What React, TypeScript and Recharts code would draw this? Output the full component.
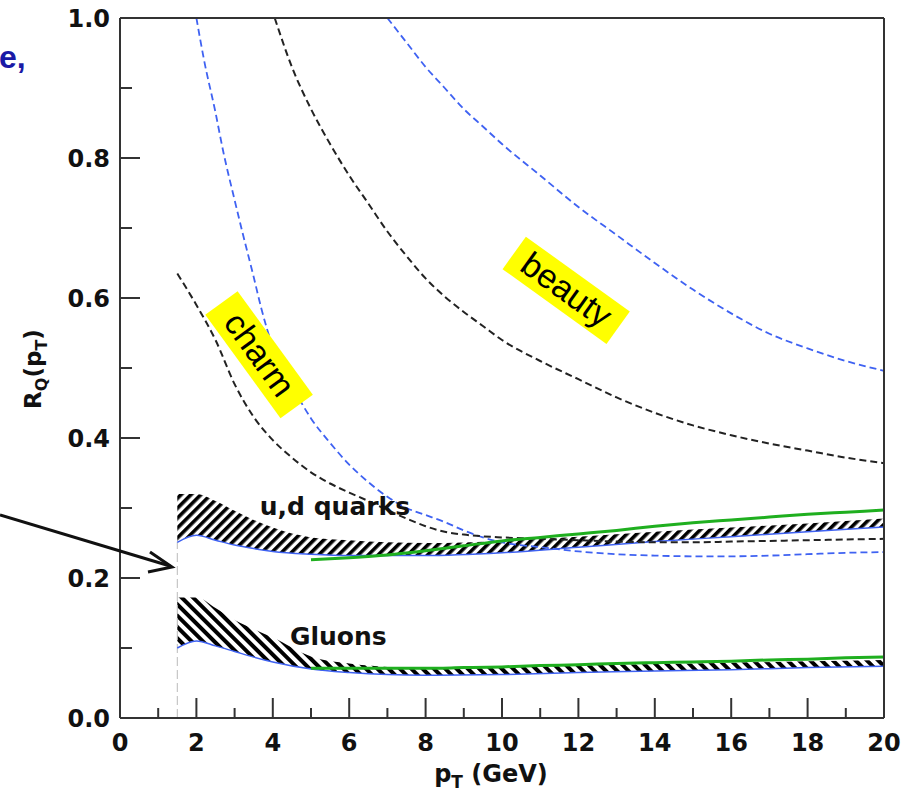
import { ComposedChart, Line, Area, XAxis, YAxis, ReferenceLine, ReferenceDot } from "recharts";

// tick values
const xTicks = [0, 1, 2, 3, 4, 5, 6, 7, 8, 9, 10, 11, 12, 13, 14, 15, 16, 17, 18, 19, 20];
const yTicks = [0, 0.1, 0.2, 0.3, 0.4, 0.5, 0.6, 0.7, 0.8, 0.9, 1.0];

// charm, blue dashed
const charmBluePt = [2.0, 2.2, 2.5, 2.7, 3.0, 3.2, 3.5, 3.7, 4.0, 4.5, 5.0, 5.5, 6.0, 6.5, 7.0, 7.5, 8.0, 8.5, 9, 9.5, 10, 11, 12, 13, 14, 15, 16, 17, 18, 19, 20];
const charmBlueR = [1.0, 0.94, 0.865, 0.81, 0.74, 0.695, 0.63, 0.585, 0.53, 0.475, 0.428, 0.393, 0.362, 0.337, 0.316, 0.3, 0.29, 0.28, 0.268, 0.258, 0.251, 0.244, 0.238, 0.234, 0.232, 0.231, 0.231, 0.232, 0.234, 0.236, 0.237];

// charm, black dashed
const charmBlackPt = [1.5, 2.0, 2.5, 3.0, 3.5, 4.0, 4.5, 5.0, 5.5, 6.0, 6.5, 7.0, 7.5, 8.0, 8.5, 9, 10, 11, 12, 13, 14, 15, 16, 17, 18, 19, 20];
const charmBlackR = [0.635, 0.59, 0.54, 0.477, 0.43, 0.397, 0.372, 0.351, 0.335, 0.322, 0.31, 0.297, 0.285, 0.274, 0.266, 0.262, 0.258, 0.256, 0.254, 0.252, 0.251, 0.251, 0.252, 0.253, 0.254, 0.255, 0.256];

// beauty, black dashed
const beautyBlackPt = [4.05, 4.5, 5.0, 5.5, 6.0, 6.5, 7.0, 7.5, 8, 8.5, 9, 9.5, 10, 11, 12, 13, 14, 15, 16, 17, 18, 19, 20];
const beautyBlackR = [1.0, 0.93, 0.87, 0.82, 0.775, 0.735, 0.695, 0.66, 0.628, 0.602, 0.58, 0.56, 0.54, 0.51, 0.484, 0.458, 0.436, 0.418, 0.404, 0.392, 0.382, 0.372, 0.364];

// beauty, blue dashed
const beautyBluePt = [7.0, 7.5, 8, 8.5, 9, 9.5, 10, 11, 12, 13, 14, 15, 16, 17, 18, 19, 20];
const beautyBlueR = [1.0, 0.965, 0.93, 0.9, 0.87, 0.845, 0.82, 0.775, 0.73, 0.69, 0.65, 0.612, 0.578, 0.549, 0.528, 0.51, 0.496];

// u,d quarks band
const bandPt = [1.5, 2.0, 2.5, 3.0, 3.5, 4.0, 5.0, 6.0, 7.0, 8.0, 10, 12, 14, 16, 18, 20];
const udLow = [0.251, 0.261, 0.254, 0.247, 0.242, 0.238, 0.234, 0.232, 0.232, 0.232, 0.236, 0.244, 0.252, 0.259, 0.266, 0.273];
const udHigh = [0.32, 0.32, 0.31, 0.296, 0.283, 0.272, 0.258, 0.254, 0.251, 0.25, 0.253, 0.259, 0.266, 0.272, 0.278, 0.285];

// gluon band
const gLow = [0.1, 0.11, 0.103, 0.095, 0.087, 0.08, 0.07, 0.065, 0.062, 0.061, 0.062, 0.065, 0.067, 0.069, 0.072, 0.074];
const gHigh = [0.172, 0.172, 0.157, 0.14, 0.127, 0.115, 0.088, 0.078, 0.073, 0.071, 0.072, 0.075, 0.077, 0.079, 0.081, 0.083];

// green lines
const greenPt = [5, 6, 7, 8, 9, 10, 11, 12, 13, 14, 15, 16, 17, 18, 19, 20];
const udGreen = [0.226, 0.229, 0.233, 0.239, 0.246, 0.253, 0.258, 0.263, 0.268, 0.274, 0.279, 0.283, 0.287, 0.291, 0.294, 0.297];
const gGreen = [0.071, 0.071, 0.071, 0.071, 0.072, 0.073, 0.075, 0.076, 0.078, 0.079, 0.08, 0.081, 0.083, 0.084, 0.086, 0.087];

const zip = (xs: number[], ys: number[]) => xs.map((x, i) => ({ x, y: ys[i] }));
const zipBand = (xs: number[], lo: number[], hi: number[]) =>
  xs.map((x, i) => ({ x, lo: lo[i], band: [lo[i], hi[i]] }));

const AXIS = "#333";
const FONT = "'DejaVu Sans', sans-serif";
const BLUE = "#3f62f2";
const GREEN = "#1faf1f";

function BottomTick(props: any) {
  const { x, y, payload } = props;
  const v = payload.value;
  const major = Math.round(v) % 2 === 0;
  return (
    <g>
      <line x1={x} x2={x} y1={y} y2={y - (major ? 20 : 10)} stroke={AXIS} strokeWidth={2} />
      {major && (
        <text x={x} y={y + 33} textAnchor="middle" fontFamily={FONT} fontWeight="bold" fontSize={24} fill="#111">
          {v}
        </text>
      )}
    </g>
  );
}

function TopTick(props: any) {
  const { x, y, payload } = props;
  const major = Math.round(payload.value) % 2 === 0;
  return <line x1={x} x2={x} y1={y} y2={y + (major ? 18 : 11)} stroke={AXIS} strokeWidth={2} />;
}

function LeftTick(props: any) {
  const { x, y, payload } = props;
  const v = payload.value;
  const major = Math.round(v * 10) % 2 === 0;
  return (
    <g>
      <line x1={x} x2={x + (major ? 20 : 12)} y1={y} y2={y} stroke={AXIS} strokeWidth={2} />
      {major && (
        <text x={x - 10} y={y + 8.5} textAnchor="end" fontFamily={FONT} fontWeight="bold" fontSize={24} fill="#111">
          {v.toFixed(1)}
        </text>
      )}
    </g>
  );
}

function RightTick(props: any) {
  const { x, y, payload } = props;
  const major = Math.round(payload.value * 10) % 2 === 0;
  return <line x1={x} x2={x - (major ? 20 : 10)} y1={y} y2={y} stroke={AXIS} strokeWidth={2} />;
}

function Tag({ cx, cy, angle, text }: { cx: number; cy: number; angle: number; text: string }) {
  return (
    <g transform={`translate(${cx},${cy}) rotate(${angle})`}>
      <rect x={-64} y={-20} width={128} height={40} fill="#ffff00" />
      <text x={0} y={11} textAnchor="middle" fontFamily="'Liberation Sans', Arial, sans-serif" fontSize={34} fill="#000">
        {text}
      </text>
    </g>
  );
}

function Caption({ cx, cy, text }: { cx: number; cy: number; text: string }) {
  return (
    <text x={cx} y={cy} fontFamily={FONT} fontWeight="bold" fontSize={25} fill="#111">
      {text}
    </text>
  );
}

export default function App() {
  return (
    <div style={{ position: "absolute", left: 0, top: 0, width: 919, height: 792, background: "#fff", overflow: "hidden" }}>
      <svg width={0} height={0} style={{ position: "absolute" }}>
        <defs>
          <pattern id="hatchUD" patternUnits="userSpaceOnUse" width={7} height={7} patternTransform="rotate(45)">
            <rect width={7} height={7} fill="#fff" />
            <rect width={3.6} height={7} fill="#000" />
          </pattern>
          <pattern id="hatchG" patternUnits="userSpaceOnUse" width={8} height={8} patternTransform="rotate(-45)">
            <rect width={8} height={8} fill="#fff" />
            <rect width={4} height={8} fill="#000" />
          </pattern>
        </defs>
      </svg>
      <ComposedChart width={919} height={792} margin={{ top: 0, right: 0, bottom: 0, left: 0 }}>
        <XAxis
          dataKey="x"
          type="number"
          domain={[0, 20]}
          ticks={xTicks}
          interval={0}
          height={74}
          tickSize={0}
          tickMargin={0}
          tickLine={false}
          axisLine={{ stroke: AXIS, strokeWidth: 2 }}
          tick={(p: any) => <BottomTick {...p} />}
        />
        <XAxis
          xAxisId="top"
          orientation="top"
          dataKey="x"
          type="number"
          domain={[0, 20]}
          ticks={xTicks}
          interval={0}
          height={18}
          tickSize={0}
          tickMargin={0}
          tickLine={false}
          axisLine={{ stroke: AXIS, strokeWidth: 2 }}
          tick={(p: any) => <TopTick {...p} />}
        />
        <YAxis
          type="number"
          domain={[0, 1]}
          ticks={yTicks}
          interval={0}
          width={120}
          tickSize={0}
          tickMargin={0}
          tickLine={false}
          axisLine={{ stroke: AXIS, strokeWidth: 2 }}
          tick={(p: any) => <LeftTick {...p} />}
        />
        <YAxis
          yAxisId="right"
          orientation="right"
          type="number"
          domain={[0, 1]}
          ticks={yTicks}
          interval={0}
          width={35}
          tickSize={0}
          tickMargin={0}
          tickLine={false}
          axisLine={{ stroke: AXIS, strokeWidth: 2 }}
          tick={(p: any) => <RightTick {...p} />}
        />

        <ReferenceLine
          segment={[{ x: 1.5, y: 0 }, { x: 1.5, y: 0.252 }]}
          stroke="#bbb"
          strokeWidth={1}
          strokeDasharray="9 4"
        />

        <Area data={zipBand(bandPt, udLow, udHigh)} dataKey="band" type="monotone" fill="url(#hatchUD)" fillOpacity={1} stroke="none" isAnimationActive={false} />
        <Area data={zipBand(bandPt, gLow, gHigh)} dataKey="band" type="monotone" fill="url(#hatchG)" fillOpacity={1} stroke="none" isAnimationActive={false} />
        <Line data={zipBand(bandPt, udLow, udHigh)} dataKey="lo" type="monotone" stroke={BLUE} strokeWidth={1.5} dot={false} isAnimationActive={false} />
        <Line data={zipBand(bandPt, gLow, gHigh)} dataKey="lo" type="monotone" stroke={BLUE} strokeWidth={1.5} dot={false} isAnimationActive={false} />

        <Line data={zip(charmBluePt, charmBlueR)} dataKey="y" type="monotone" stroke={BLUE} strokeWidth={1.8} strokeDasharray="7 4" dot={false} isAnimationActive={false} />
        <Line data={zip(charmBlackPt, charmBlackR)} dataKey="y" type="monotone" stroke="#222" strokeWidth={2} strokeDasharray="7 4" dot={false} isAnimationActive={false} />
        <Line data={zip(beautyBlackPt, beautyBlackR)} dataKey="y" type="monotone" stroke="#222" strokeWidth={2} strokeDasharray="7 4" dot={false} isAnimationActive={false} />
        <Line data={zip(beautyBluePt, beautyBlueR)} dataKey="y" type="monotone" stroke={BLUE} strokeWidth={1.8} strokeDasharray="7 4" dot={false} isAnimationActive={false} />

        <Line data={zip(greenPt, udGreen)} dataKey="y" type="monotone" stroke={GREEN} strokeWidth={3} dot={false} isAnimationActive={false} />
        <Line data={zip(greenPt, gGreen)} dataKey="y" type="monotone" stroke={GREEN} strokeWidth={3} dot={false} isAnimationActive={false} />

        <ReferenceDot x={3.64} y={0.519} r={0} shape={(p: any) => <Tag cx={p.cx} cy={p.cy} angle={54} text="charm" />} />
        <ReferenceDot x={11.68} y={0.611} r={0} shape={(p: any) => <Tag cx={p.cx} cy={p.cy} angle={35.7} text="beauty" />} />
        <ReferenceDot x={3.66} y={0.29} r={0} shape={(p: any) => <Caption cx={p.cx} cy={p.cy} text="u,d quarks" />} />
        <ReferenceDot x={4.45} y={0.104} r={0} shape={(p: any) => <Caption cx={p.cx} cy={p.cy} text="Gluons" />} />
      </ComposedChart>
      <svg width={919} height={792} style={{ position: "absolute", left: 0, top: 0, pointerEvents: "none" }}>
        <text x={-1} y={68} fontFamily="'Liberation Sans', Arial, sans-serif" fontWeight="bold" fontSize={32} fill="#1a1aa6">
          e,
        </text>
        <line x1={0} y1={515} x2={170} y2={566} stroke="#111" strokeWidth={3} />
        <polyline points="150,552 172,567 148,572" fill="none" stroke="#111" strokeWidth={3} />
        <text transform="translate(41,369) rotate(-90)" textAnchor="middle" fontFamily={FONT} fontWeight="bold" fontSize={23} fill="#111">
          R<tspan fontSize={16} dy={6}>Q</tspan>
          <tspan dy={-6}>(p</tspan>
          <tspan fontSize={16} dy={6}>T</tspan>
          <tspan dy={-6}>)</tspan>
        </text>
        <text x={491} y={782} textAnchor="middle" fontFamily={FONT} fontWeight="bold" fontSize={24} fill="#111">
          p<tspan fontSize={17} dy={6}>T</tspan>
          <tspan dy={-6}> (GeV)</tspan>
        </text>
      </svg>
    </div>
  );
}
